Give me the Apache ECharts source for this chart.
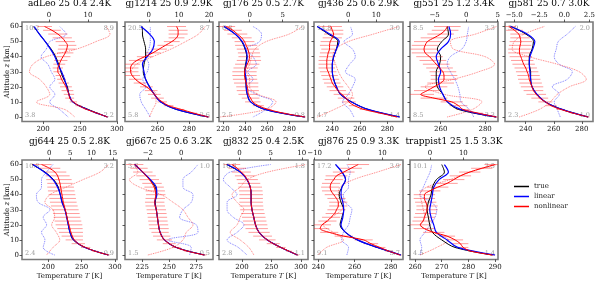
<!DOCTYPE html>
<html><head><meta charset="utf-8">
<script src="https://cdn.jsdelivr.net/npm/echarts@6/dist/echarts.min.js"></script>
<style>html,body{margin:0;padding:0;background:#fff}#c{width:598px;height:283px}</style>
</head><body><div id="c"></div>
<script>
// ---------- data ----------
const ALT = [0,5,10,15,20,25,30,35,40,45,50,55,60];
const ALT_FINE = [0,2.5,5,7.5,10,12.5,15,17.5,20,22.5,25,27.5,30,32.5,35,37.5,40,42.5,45,47.5,50,52.5,55,57.5,60];
const ALT_TICKS = [0,10,20,30,40,50,60];
const LEGEND_NAMES = ['true','linear','nonlinear'];

const adLeo_true = [287,261,240,235,233,228,224,221,217,211,203,195,187];
const adLeo_linear = [287,260,240,235,232,229,225,220,216,210,203,195,188];
const adLeo_nonlinear = [287,273,259,248,241,236,235,233,231,228,225,223,220,220,222,224,227,230,232,233,230,226,220,212,202];
const adLeo_err = [1,2,3,4,5,6,7,8,8,7,6,6,6,7,8,9,10,11,12,12,13,13,13,12,10];
const adLeo_dLin = [4.9,2.7,0.2,1.5,0.2,1.5,0.6,-0.3,-2,-0.7,0.2,4.4,2.7];
const adLeo_dNon = [6.6,4,-3.2,0.2,-0.7,-2.4,-5,-4.1,-0.7,7,12,15.6,14.7];
const adLeo_xticks = [200,250,300];
const adLeo_topticks = [0,10];
const adLeo_corners = ['10.2','8.9','3.8','2.2'];

const gj1214_true = [292,272,262,258,255,252.5,251,251.5,252.5,252.5,251.5,250.5,250.5];
const gj1214_linear = [292,272,262,258,255,252.5,251.5,250.5,253.5,257,258,255,249.5];
const gj1214_nonlinear = [292,283,275,267,263,260,258,256,253,249,246,244,243,243,244,247,252,257,261,265,269,272,273,273,272];
const gj1214_err = [1,2,2,3,3,4,4,4,4,4,4,5,5,5,5,5,5,5,5,5,5,5,6,6,6];
const gj1214_dLin = [0.5,-1,-2.5,-3,-1,-2,-0.5,0,-1,0,0.5,0.5,0.5];
const gj1214_dNon = [0.2,1.3,2.4,2.4,-0.9,-4.1,-5.8,-4.1,1.3,7.3,12.2,16.5,18.7];
const gj1214_xticks = [260,280];
const gj1214_topticks = [0,10,20];
const gj1214_corners = ['20.5','8.7','5.8','2.6'];

const gj176_true = [294,258,245,242,241,240.5,239.5,240.5,241.5,240,237,231,221];
const gj176_linear = [294,258,245,242,241,241,240,241,242,240.5,237.5,231,221];
const gj176_nonlinear = [294,275,261,252,247,245,243,242.5,242,241,240,239.5,239.5,240.5,242,243.5,244,243.5,242.5,241,239.5,237,233,229,223];
const gj176_err = [1,2,3,5,7,8,9,10,10,11,11,11,11,11,11,11,10,10,10,10,9,9,9,8,8];
const gj176_dLin = [0.5,2.5,3.5,1,-0.5,0.5,-0.3,1,0.5,-0.5,1.5,1.8,0.5];
const gj176_dNon = [-4.5,2.5,4,1.3,0,0,-0.5,0,0.3,0.8,2.5,6,8];
const gj176_xticks = [220,240,260,280];
const gj176_topticks = [0,5];
const gj176_corners = ['6.8','7.9','2.5','0.8'];

const gj436_true = [289,266,254,246,243,241,240,240,241,243,244,237,229];
const gj436_linear = [289,266,254,246,243,241,240,240,241,243,245,238,229];
const gj436_nonlinear = [287,275,263,256,252,250,247,244,242,240,239,238,237,236,236,236,236.5,237,238,238,238.5,240,241,240,239];
const gj436_err = [1,2,3,4,5,6,6,6,6,6,6,6,6,6,6,6,6,6,6,7,7,7,7,8,8];
const gj436_dLin = [2,0.5,-2,0,1.5,2.5,-1,0.5,2.5,1.5,-1.5,1.5,0.8];
const gj436_dNon = [-11,-5,0,1.5,0,-2,-3.5,-4.5,-5.5,-4.5,0,9,18];
const gj436_xticks = [240,260,280];
const gj436_topticks = [0,10];
const gj436_corners = ['14.8','3.0','4.7','1.4'];

const gj551_true = [285,268,263,261,258.5,258,258,259.5,260,258.5,260.5,263.5,263];
const gj551_linear = [285,269,263,261,259.5,259,260,259,258,260,263.5,264.5,263.7];
const gj551_nonlinear = [285,277,270,268,265,257,251,254,257,260,261.5,261.5,261,259.5,258,256.5,255,253,252.5,253,254,257,260,262,263];
const gj551_err = [1,2,3,4,5,6,6,6,6,6,6,6,6,6,6,6,6,6,6,6,6,6,6,6,6];
const gj551_dLin = [1.2,0.5,-0.8,-1,-1.3,-1.8,-2.5,-3,-2.5,-0.7,0,0.2,0.4];
const gj551_dNon = [-3,1,2.5,-3.5,-6.5,-2,2,4.5,3,-2,-2.5,1.5,4.8];
const gj551_xticks = [260,280];
const gj551_topticks = [-5,0,5];
const gj551_corners = ['8.5','3.3','8.5','3.3'];

const gj581_true = [284.5,266,254,248,244.5,243.5,243.5,242.5,242.5,244.5,245.5,240,229.5];
const gj581_linear = [284.5,266,254,248,244.5,243.5,243,242.5,243,245,246.5,241,229];
const gj581_nonlinear = [284.5,274,265,258,254,250,247.5,245.5,244.5,243.5,242.5,242,241,240,238.5,237.5,236.5,235.5,235.5,236,236.5,236,235,232,228];
const gj581_err = [1,2,3,4,5,6,7,7,8,8,8,8,8,8,8,8,8,8,8,8,8,7,6,6,5];
const gj581_dLin = [-0.4,-0.7,-1,-0.5,-1.2,0.3,0.8,-0.5,-1,-0.8,-0.6,0.3,1.1];
const gj581_dNon = [-4.5,-2.5,-1.4,-0.7,0.5,2.2,1.5,-0.7,-3.5,-5.2,-5,-4,-2];
const gj581_xticks = [240,260,280];
const gj581_topticks = [-5,-2.5,0,2.5];
const gj581_corners = ['5.9','2.0','2.3','1.0'];

const gj644_true = [290,255,237.5,232.5,230,228,225,221,218,215,208,195,176];
const gj644_linear = [290,255,238,232.5,230,227.5,225,220.5,218,214,207,194,177];
const gj644_nonlinear = [290,270,256,245,239,236,234,232.5,231,229.5,228,227,225.5,224,222.5,221.5,220.5,219.5,218.5,217.5,216,214,210,202,190];
const gj644_err = [2,4,7,10,13,16,18,19,20,20,20,20,20,20,20,20,20,20,20,19,19,18,17,16,15];
const gj644_dLin = [1.3,-1.4,-1,-1.8,-0.6,-1.4,0.2,-2.6,-3,-1.8,-1.8,-0.6,0.9];
const gj644_dNon = [-0.6,0.9,2.5,1.7,0.6,1.3,0.9,-1,0.2,4,8,12,14];
const gj644_xticks = [200,250,300];
const gj644_topticks = [0,5,10,15];
const gj644_corners = ['10.8','3.2','2.4','0.9'];

const gj667c_true = [282.5,256.5,245.5,241.5,240,239,238,237,238,237,232,225.5,218];
const gj667c_linear = [282.5,256.5,245.5,241.5,240,239,238,236.5,238.5,238,232.5,225.5,218];
const gj667c_nonlinear = [282.5,267,256.5,250,245.5,243,241.5,240.5,240,239.5,239,238.5,238,237,236.5,237,237.5,237,236,234,231.5,228.5,225.5,222,218];
const gj667c_err = [2,3,4,6,7,8,8,9,9,9,9,9,9,9,9,9,9,9,9,9,9,9,9,8,8];
const gj667c_dLin = [0.5,0.6,-0.8,1,0.9,-0.1,0.1,0.6,0.7,0.1,0.1,0.6,1.0];
const gj667c_dNon = [-2,-0.5,0.1,0.3,0.7,0.4,0.1,-0.5,-1.2,-2.5,-3.1,-2.6,-2.8];
const gj667c_xticks = [225,250,275];
const gj667c_topticks = [-2,0];
const gj667c_corners = ['3.6','1.0','1.5','0.5'];

const gj832_true = [294,266,243,229,223,220,217,215.5,215.5,214,208.5,197,174];
const gj832_linear = [294,266,243,229,223,220,217,215.5,215.5,214,208.5,197,175];
const gj832_nonlinear = [294,280,266,253,243,235,229,225,223,221.5,220,218.5,217,216,215.5,215.5,215.5,215,214,212,209,205,199,192,183];
const gj832_err = [3,5,8,11,14,16,18,19,20,20,20,20,20,20,20,20,20,20,20,19,18,17,16,15,14];
const gj832_dLin = [1.2,-0.2,-2,-0.4,0.7,-1,-2,-2,-0.4,-1.5,-2.6,-1.5,5];
const gj832_dNon = [2.3,1.5,0.1,-1.5,-0.4,0.1,0.7,-0.4,-1.2,0.1,1.2,4.5,10.7];
const gj832_xticks = [200,250,300];
const gj832_topticks = [0,5,10];
const gj832_corners = ['10.6','1.8','2.8','1.1'];

const gj876_true = [285.5,272.5,261.5,255,252,253,254,252.5,251.5,253,255,253,249.5];
const gj876_linear = [285.5,272.5,261.5,255,252.5,253.5,254,253.5,252.5,253,255,253,249.5];
const gj876_nonlinear = [285,279,274,269,265,254,246,241,242,245,247,249,250,251,251,250,248.5,247,246.5,247,248.5,250,254,258,262];
const gj876_err = [1,2,3,4,5,5,5,5,5,5,5,5,5,5,5,5,5,5,5,5,5,6,6,6,6];
const gj876_dLin = [-0.5,0,-2,-1.5,0,0.5,1,-1,-1.5,0,0,0.5,-0.5];
const gj876_dNon = [-9,-6.5,-1.5,-4.5,-7.5,-5,-2,-1.5,-3,-2.5,1.5,8.5,15.5];
const gj876_xticks = [240,260,280];
const gj876_topticks = [-10,0,10];
const gj876_corners = ['17.2','3.9','9.1','3.7'];

const trappist1_true = [289,275,270,266.5,265.5,265,264.5,265,266,266.5,268,271,270];
const trappist1_linear = [290,276,272,268,267,266,265.5,266,266.5,267,269,272.5,271];
const trappist1_nonlinear = [289,281,278,277,275,272,267,263.5,262,263,263.5,264,264.5,264.5,264,263.5,263.5,265.5,268.5,272,274.5,277,280.5,285,290];
const trappist1_err = [1,1,2,3,3,3,4,4,4,4,4,4,4,4,4,4,4,4,4,4,4,4,4,4,4];
const trappist1_dLin = [-3,-2.5,-3,-1.5,0,1.5,2,0.5,-3,-2,-1,0,0.5];
const trappist1_dNon = [-3,2,5.5,1,-3,-1.5,-2,-2.5,-3,-1,6,12,20];
const trappist1_xticks = [260,270,280,290];
const trappist1_topticks = [0,10];
const trappist1_corners = ['10.1','3.5','4.5','1.4'];

const TITLES = ['adLeo 25 0.4 2.4K','gj1214 25 0.9 2.9K','gj176 25 0.5 2.7K','gj436 25 0.6 2.9K','gj551 25 1.2 3.4K','gj581 25 0.7 3.0K','gj644 25 0.5 2.8K','gj667c 25 0.6 3.2K','gj832 25 0.4 2.5K','gj876 25 0.9 3.3K','trappist1 25 1.5 3.3K'];

const PANELS = [
  [adLeo_true, adLeo_linear, adLeo_nonlinear, adLeo_err, adLeo_dLin, adLeo_dNon, adLeo_xticks, adLeo_topticks, adLeo_corners],
  [gj1214_true, gj1214_linear, gj1214_nonlinear, gj1214_err, gj1214_dLin, gj1214_dNon, gj1214_xticks, gj1214_topticks, gj1214_corners],
  [gj176_true, gj176_linear, gj176_nonlinear, gj176_err, gj176_dLin, gj176_dNon, gj176_xticks, gj176_topticks, gj176_corners],
  [gj436_true, gj436_linear, gj436_nonlinear, gj436_err, gj436_dLin, gj436_dNon, gj436_xticks, gj436_topticks, gj436_corners],
  [gj551_true, gj551_linear, gj551_nonlinear, gj551_err, gj551_dLin, gj551_dNon, gj551_xticks, gj551_topticks, gj551_corners],
  [gj581_true, gj581_linear, gj581_nonlinear, gj581_err, gj581_dLin, gj581_dNon, gj581_xticks, gj581_topticks, gj581_corners],
  [gj644_true, gj644_linear, gj644_nonlinear, gj644_err, gj644_dLin, gj644_dNon, gj644_xticks, gj644_topticks, gj644_corners],
  [gj667c_true, gj667c_linear, gj667c_nonlinear, gj667c_err, gj667c_dLin, gj667c_dNon, gj667c_xticks, gj667c_topticks, gj667c_corners],
  [gj832_true, gj832_linear, gj832_nonlinear, gj832_err, gj832_dLin, gj832_dNon, gj832_xticks, gj832_topticks, gj832_corners],
  [gj876_true, gj876_linear, gj876_nonlinear, gj876_err, gj876_dLin, gj876_dNon, gj876_xticks, gj876_topticks, gj876_corners],
  [trappist1_true, trappist1_linear, trappist1_nonlinear, trappist1_err, trappist1_dLin, trappist1_dNon, trappist1_xticks, trappist1_topticks, trappist1_corners]
];

// ---------- layout ----------
// [xMin, xMax, topMin, topMax]
const LIMITS = [
  [171.5,300,-6.9,17.4],[239.5,295,-7.9,21.3],[216.4,297,-4.65,8.85],[226.7,291.4,-12.2,19.5],
  [246.2,285.8,-8.9,5.05],[225.2,288,-5.92,2.87],[160.6,303,-6.4,16],[209,290.5,-3.37,1.9],
  [161,312,-3.3,11],[237.6,286.7,-10.2,16.1],[258.1,291.1,-6,20.4]
];
const COL_LEFT = [22,125,219,314,410,505];
const COL_W = [95,88,89,89,88,88];
const ROW_TOP = [22,160];
const ROW_H = 99.5;
const SERIF = '"DejaVu Serif", "Liberation Serif", serif';

const grids=[], xAxes=[], yAxes=[], series=[], graphics=[];
const minusFmt = (dec) => v => { const s = dec ? Math.abs(v).toFixed(1) : String(Math.abs(v)); return (v<0?'\u2212':'') + s; };

PANELS.forEach((P,k)=>{
  const [tru, lin, non, err, dl, dn, xt, tt, corners] = P;
  const r = k < 6 ? 0 : 1, c = k < 6 ? k : k-6;
  const left = COL_LEFT[c], width = COL_W[c], top = ROW_TOP[r], height = ROW_H;
  const L = LIMITS[k];
  grids.push({left, top, width, height, show:true, borderColor:'#7a7a7a', borderWidth:1.6, backgroundColor:'transparent'});
  const dec = tt.some(v => v % 1 !== 0);
  xAxes.push({gridIndex:k, type:'value', position:'bottom', min:L[0], max:L[1],
    axisLine:{show:false, onZero:false}, splitLine:{show:false},
    axisTick:{show:true, customValues:xt, length:2.5, lineStyle:{color:'#333', width:0.8}},
    axisLabel:{customValues:xt, fontSize:7, fontFamily:SERIF, color:'#111', margin:4}});
  xAxes.push({gridIndex:k, type:'value', position:'top', min:L[2], max:L[3],
    axisLine:{show:false, onZero:false}, splitLine:{show:false},
    axisTick:{show:true, customValues:tt, length:2.5, lineStyle:{color:'#333', width:0.8}},
    axisLabel:{customValues:tt, fontSize:7, fontFamily:SERIF, color:'#111', margin:3, formatter:minusFmt(dec)}});
  yAxes.push({gridIndex:k, type:'value', position:'left', min:-3, max:63,
    axisLine:{show:false, onZero:false}, splitLine:{show:false},
    axisTick:{show:true, customValues:ALT_TICKS, length:2.5, lineStyle:{color:'#333', width:0.8}},
    axisLabel:{show:c===0, customValues:ALT_TICKS, fontSize:7, fontFamily:SERIF, color:'#111', margin:3}});
  const xb = 2*k, xtp = 2*k+1;
  series.push({type:'custom', name:'err', xAxisIndex:xb, yAxisIndex:k, clip:true, z:2,
    itemStyle:{color:'#ff3030'},
    data: ALT_FINE.map((a,i)=>[non[i], a, err[i]]),
    encode:{x:0, y:1},
    renderItem:(params, api)=>{
      const t = api.value(0), a = api.value(1), e = api.value(2);
      const p1 = api.coord([t-e, a]), p2 = api.coord([t+e, a]);
      return {type:'line', shape:{x1:p1[0], y1:p1[1], x2:p2[0], y2:p2[1]}, style:{stroke:'rgba(255,40,40,0.45)', lineWidth:1}};
    }});
  const common = {showSymbol:false, symbol:'none', clip:true, emphasis:{disabled:true}, label:{show:false}, endLabel:{show:false}};
  series.push(Object.assign({type:'line', name:'dLin', xAxisIndex:xtp, yAxisIndex:k, data:ALT.map((a,i)=>[dl[i],a]), smooth:0.35, z:1,
    itemStyle:{color:'#4040ff'}, lineStyle:{color:'rgba(60,60,255,0.75)', width:0.9, type:'dotted'}}, common));
  series.push(Object.assign({type:'line', name:'dNon', xAxisIndex:xtp, yAxisIndex:k, data:ALT.map((a,i)=>[dn[i],a]), smooth:0.35, z:1,
    itemStyle:{color:'#ff4040'}, lineStyle:{color:'rgba(255,60,60,0.75)', width:0.9, type:'dotted'}}, common));
  series.push(Object.assign({type:'line', name:'true', xAxisIndex:xb, yAxisIndex:k, data:ALT.map((a,i)=>[tru[i],a]), smooth:0.35, z:3,
    itemStyle:{color:'#000'}, lineStyle:{color:'#000', width:1}}, common));
  series.push(Object.assign({type:'line', name:'linear', xAxisIndex:xb, yAxisIndex:k, data:ALT.map((a,i)=>[lin[i],a]), smooth:0.35, z:4,
    itemStyle:{color:'#0000ff'}, lineStyle:{color:'#0000ff', width:1.2}}, common));
  series.push(Object.assign({type:'line', name:'nonlinear', xAxisIndex:xb, yAxisIndex:k, data:ALT_FINE.map((a,i)=>[non[i],a]), smooth:0.3, z:5,
    itemStyle:{color:'#ff0000'}, lineStyle:{color:'#ff0000', width:1}}, common));

  // title
  graphics.push({type:'text', x:left+width/2, y:top-18, style:{text:TITLES[k], fill:'#000', font:'9px '+SERIF, align:'center', verticalAlign:'middle'}});
  // corners
  const cf = '6.5px '+SERIF, cc = '#999';
  graphics.push({type:'text', x:left+3, y:top+3, style:{text:corners[0], fill:cc, font:cf, align:'left', verticalAlign:'top'}});
  graphics.push({type:'text', x:left+width-3, y:top+3, style:{text:corners[1], fill:cc, font:cf, align:'right', verticalAlign:'top'}});
  graphics.push({type:'text', x:left+3, y:top+height-3, style:{text:corners[2], fill:cc, font:cf, align:'left', verticalAlign:'bottom'}});
  graphics.push({type:'text', x:left+width-3, y:top+height-3, style:{text:corners[3], fill:cc, font:cf, align:'right', verticalAlign:'bottom'}});
  if (r === 1) {
    graphics.push({type:'text', x:left+width/2, y:top+height+17, style:{
      text:'{a|Temperature }{i|T}{a| [K]}', align:'center', verticalAlign:'middle',
      rich:{a:{fontSize:7, fontFamily:SERIF, fill:'#111'}, i:{fontSize:7, fontFamily:SERIF, fontStyle:'italic', fill:'#111'}}}});
  }
  if (c === 0) {
    graphics.push({type:'text', x:7, y:top+height/2, rotation:Math.PI/2, style:{
      text:'{a|Altitude }{i|z}{a| [km]}', align:'center', verticalAlign:'middle',
      rich:{a:{fontSize:7, fontFamily:SERIF, fill:'#111'}, i:{fontSize:7, fontFamily:SERIF, fontStyle:'italic', fill:'#111'}}}});
  }
});

const chart = echarts.init(document.getElementById('c'), null, {renderer:'canvas'});
chart.setOption({
  animation:false,
  backgroundColor:'#fff',
  tooltip:{show:false},
  grid:grids, xAxis:xAxes, yAxis:yAxes, series,
  graphic:graphics,
  legend:{data:LEGEND_NAMES, orient:'vertical', left:509, top:178, itemWidth:15, itemHeight:1.5, icon:'rect', itemGap:3,
    selectedMode:false, textStyle:{fontFamily:SERIF, fontSize:7, color:'#222'}}
});
</script></body></html>
